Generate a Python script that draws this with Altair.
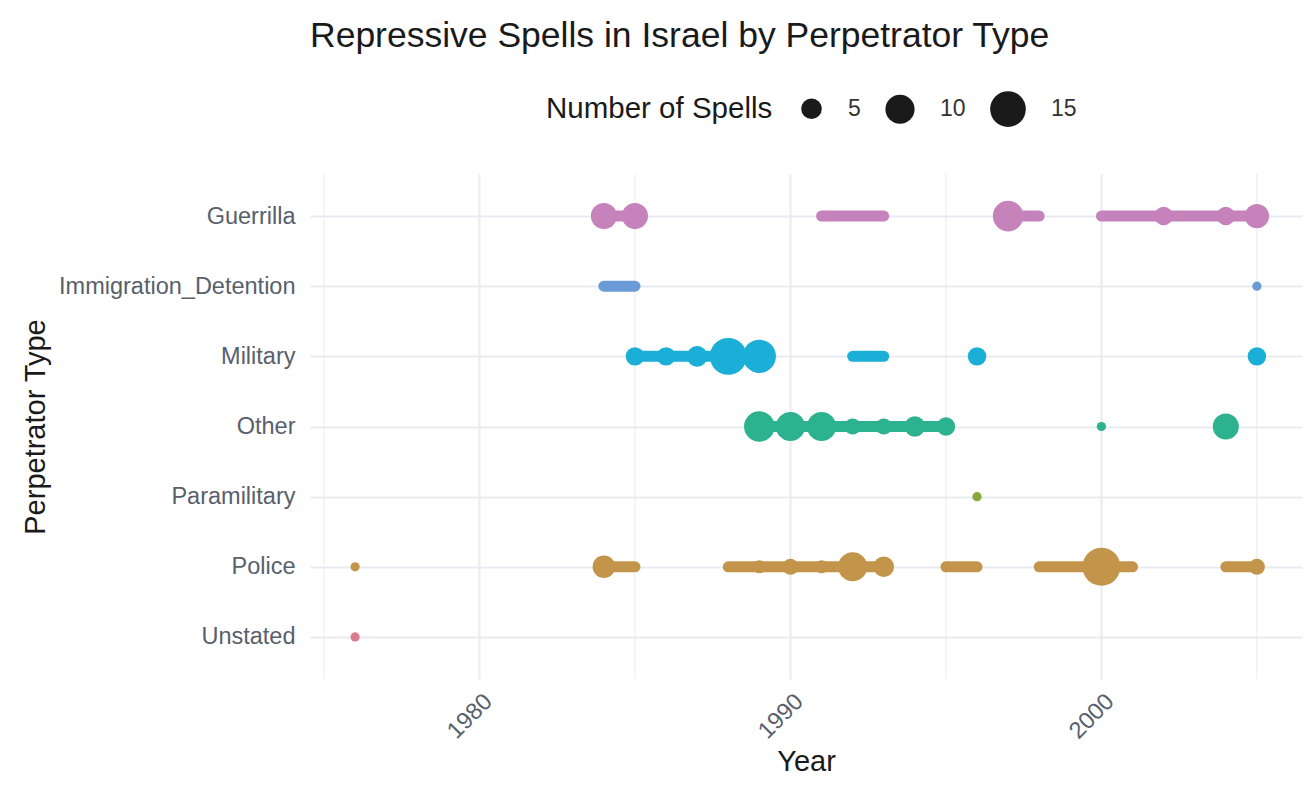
import altair as alt
import pandas as pd

categories = ["Guerrilla", "Immigration_Detention", "Military", "Other",
              "Paramilitary", "Police", "Unstated"]
colors = ["#C683BB", "#6B9BD6", "#1BAED6", "#2DB28F", "#88A83C", "#C2954A", "#DA7C8E"]

# spells as segments (start year -> end year)
seg_type = ["Guerrilla", "Guerrilla", "Guerrilla", "Guerrilla",
            "Immigration_Detention",
            "Military", "Military",
            "Other",
            "Police", "Police", "Police", "Police", "Police"]
seg_start = [1984, 1991, 1997, 2000,
             1984,
             1985, 1992,
             1989,
             1984, 1988, 1995, 1998, 2004]
seg_end = [1985, 1993, 1998, 2005,
           1985,
           1989, 1993,
           1995,
           1985, 1993, 1996, 2001, 2005]

# number of spells per year
pt_type = (["Guerrilla"] * 6 + ["Immigration_Detention"] + ["Military"] * 7 +
           ["Other"] * 9 + ["Paramilitary"] + ["Police"] * 9 + ["Unstated"])
pt_year = ([1984, 1985, 1997, 2002, 2004, 2005] +
           [2005] +
           [1985, 1986, 1987, 1988, 1989, 1996, 2005] +
           [1989, 1990, 1991, 1992, 1993, 1994, 1995, 2000, 2004] +
           [1996] +
           [1976, 1984, 1989, 1990, 1991, 1992, 1993, 2000, 2005] +
           [1976])
pt_count = ([8, 8, 11, 4, 4, 7] +
            [1] +
            [4, 4, 5, 16, 13, 4, 4] +
            [11, 10, 10, 3, 3, 5, 4, 1, 8] +
            [1] +
            [1, 6, 2, 3, 2, 10, 5, 17, 3] +
            [1])

major_years = [1980, 1990, 2000]
minor_years = [1975, 1985, 1995, 2005]
legend_values = [5, 10, 15]

segs = pd.DataFrame({"type": seg_type, "start": seg_start, "end": seg_end})
pts = pd.DataFrame({"type": pt_type, "year": pt_year, "count": pt_count})
minor = pd.DataFrame({"year": minor_years})

GRID = "#E8EBF0"
FONT = "Liberation Sans"

xscale = alt.Scale(domain=[1974.55, 2006.45], nice=False, zero=False)
yscale = alt.Scale(type="point", domain=categories, padding=0.6)
cscale = alt.Scale(domain=categories, range=colors)

xaxis = alt.Axis(values=major_years, format="d", labelAngle=-45, labelAlign="right",
                 labelBaseline="top", grid=True, gridColor=GRID, gridWidth=2,
                 ticks=False, domain=False, labelFontSize=23.5, labelColor="#58606c",
                 labelPadding=10, title="Year", titleFontSize=29, titleColor="#1a1a1a",
                 titleFontWeight="normal", titlePadding=5)
yaxis = alt.Axis(title="Perpetrator Type", grid=True, gridColor=GRID, gridWidth=2,
                 ticks=False, domain=False, labelFontSize=23.5, labelColor="#58606c",
                 labelPadding=15, labelLimit=400, titleFontSize=29, titleColor="#1a1a1a",
                 titleFontWeight="normal", titleX=-266, titleBaseline="alphabetic")

minor_grid = alt.Chart(minor).mark_rule(color=GRID, strokeWidth=1).encode(
    x=alt.X("year:Q", scale=xscale, axis=xaxis, title="Year")
)

segments = alt.Chart(segs).mark_rule(strokeWidth=11, strokeCap="round", opacity=1).encode(
    x=alt.X("start:Q", scale=xscale, axis=xaxis, title="Year"),
    x2="end:Q",
    y=alt.Y("type:N", scale=yscale, axis=yaxis, title="Perpetrator Type"),
    color=alt.Color("type:N", scale=cscale, legend=None),
)

points = alt.Chart(pts).mark_circle(opacity=1).encode(
    x=alt.X("year:Q", scale=xscale, axis=xaxis, title="Year"),
    y=alt.Y("type:N", scale=yscale, axis=yaxis, title="Perpetrator Type"),
    color=alt.Color("type:N", scale=cscale, legend=None),
    size=alt.Size("count:Q",
                  scale=alt.Scale(type="linear", domain=[0, 15], range=[0, 1275]),
                  legend=alt.Legend(title="Number of Spells", orient="none",
                                    legendX=236, legendY=-83, direction="horizontal",
                                    titleOrient="left", values=legend_values,
                                    symbolType="circle", symbolFillColor="#1a1a1a",
                                    symbolStrokeWidth=0, symbolOpacity=1,
                                    labelFontSize=23, labelColor="#333333",
                                    titleFontSize=29.5, titleColor="#1a1a1a",
                                    titleFontWeight="normal", titleLimit=500,
                                    labelOffset=25, columnPadding=24, titlePadding=27,
                                    titleBaseline="middle")),
)

chart = alt.layer(minor_grid, segments, points).properties(
    width=992,
    height=505,
    title=alt.TitleParams("Repressive Spells in Israel by Perpetrator Type", anchor="start",
                          frame="group", fontSize=35.5, fontWeight="normal",
                          color="#1a1a1a", offset=37),
    padding={"left": 13, "top": 10, "right": 5, "bottom": 5},
).configure(font=FONT).configure_view(stroke=None)

chart.save("out.html", embed_options={"renderer": "svg", "actions": False})
